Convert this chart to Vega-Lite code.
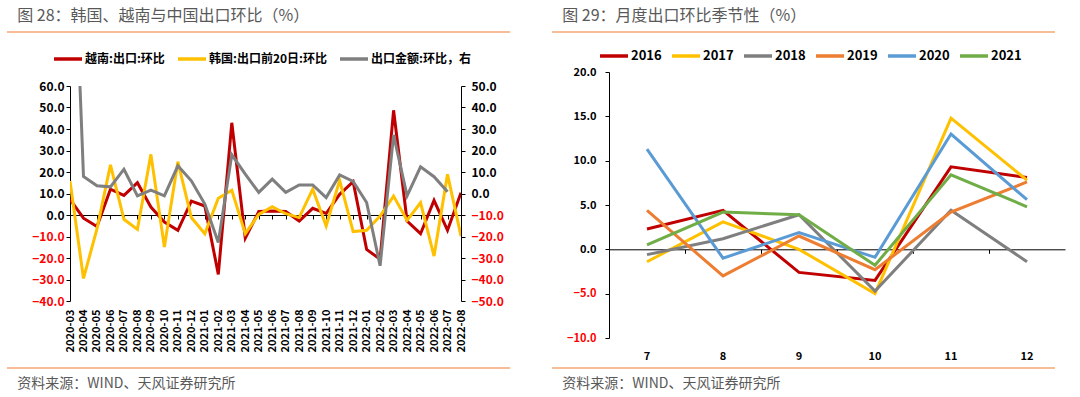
{
 "$schema": "https://vega.github.io/schema/vega-lite/v6.json",
 "background": "white",
 "padding": {"left": 7, "top": 7, "right": 5, "bottom": 0},
 "config": {"font": "Noto Sans CJK SC", "view": {"stroke": null}, "axis": {"grid": false}},
 "spacing": -21,
 "resolve": {"scale": {"color": "independent", "x": "independent", "y": "independent"}, "legend": {"color": "independent"}},
 "hconcat": [
  {
   "spacing": 54,
   "bounds": "flush",
   "resolve": {"scale": {"color": "independent"}, "legend": {"color": "independent"}},
   "vconcat": [
    {
     "width": 503, "height": 1,
     "data": {"values": [{}]},
     "mark": {"type": "point", "opacity": 0},
     "encoding": {"x": {"datum": 0, "type": "quantitative", "scale": {"domain": [0, 1]},
                        "axis": {"orient": "bottom", "title": null, "labels": false, "ticks": false, "domain": true, "domainColor": "#ED7D31", "domainWidth": 1, "translate": -63, "offset": 63}}},
     "title": {"text": "图 28：韩国、越南与中国出口环比（%）", "anchor": "start", "dx": -50, "offset": 5, "fontSize": 16, "fontWeight": "normal", "color": "#595959"}
    },
    {
     "width": 391, "height": 215,
     "data": {"values": [
      {"m": "2020-03", "s1": 7.3, "s2": 15.8, "s3": 170},
      {"m": "2020-04", "s1": -1.5, "s2": -29.5, "s3": 7.9},
      {"m": "2020-05", "s1": -5.4, "s2": -6.5, "s3": 3.6},
      {"m": "2020-06", "s1": 12.0, "s2": 23.3, "s3": 3.1},
      {"m": "2020-07", "s1": 9.1, "s2": -2.0, "s3": 11.3},
      {"m": "2020-08", "s1": 15.0, "s2": -6.7, "s3": -1.1},
      {"m": "2020-09", "s1": 3.7, "s2": 28.2, "s3": 1.6},
      {"m": "2020-10", "s1": -3.3, "s2": -14.9, "s3": -1.1},
      {"m": "2020-11", "s1": -7.1, "s2": 24.8, "s3": 12.9},
      {"m": "2020-12", "s1": 6.5, "s2": -1.2, "s3": 5.9},
      {"m": "2021-01", "s1": 4.2, "s2": -8.7, "s3": -4.9},
      {"m": "2021-02", "s1": -27.6, "s2": 7.8, "s3": -22.8},
      {"m": "2021-03", "s1": 42.9, "s2": 11.5, "s3": 18.0},
      {"m": "2021-04", "s1": -10.8, "s2": -8.7, "s3": 9.0},
      {"m": "2021-05", "s1": 1.6, "s2": 0.3, "s3": 0.5},
      {"m": "2021-06", "s1": 1.9, "s2": 3.9, "s3": 6.7},
      {"m": "2021-07", "s1": 1.6, "s2": 0.6, "s3": 0.5},
      {"m": "2021-08", "s1": -2.8, "s2": -1.2, "s3": 4.0},
      {"m": "2021-09", "s1": 3.1, "s2": 12.0, "s3": 4.0},
      {"m": "2021-10", "s1": 0.7, "s2": -5.1, "s3": -1.9},
      {"m": "2021-11", "s1": 9.6, "s2": 16.1, "s3": 8.6},
      {"m": "2021-12", "s1": 15.5, "s2": -7.7, "s3": 5.6},
      {"m": "2022-01", "s1": -16.0, "s2": -7.1, "s3": -4.2},
      {"m": "2022-02", "s1": -20.6, "s2": -0.5, "s3": -33.6},
      {"m": "2022-03", "s1": 48.7, "s2": 8.8, "s3": 27.3},
      {"m": "2022-04", "s1": -2.8, "s2": -2.5, "s3": -1.1},
      {"m": "2022-05", "s1": -8.7, "s2": 5.7, "s3": 12.4},
      {"m": "2022-06", "s1": 6.8, "s2": -19.1, "s3": 7.8},
      {"m": "2022-07", "s1": -7.1, "s2": 18.9, "s3": 0.8},
      {"m": "2022-08", "s1": 10.4, "s2": -9.8, "s3": null}
     ]},
     "transform": [{"fold": ["s1", "s2", "s3"], "as": ["key", "value"]}],
     "layer": [
      {
       "transform": [{"filter": "datum.key != 's3'"}],
       "mark": {"type": "line", "strokeWidth": 3, "clip": true},
       "encoding": {
        "x": {"field": "m", "type": "ordinal", "scale": {"type": "point", "padding": 0},
              "axis": {"orient": "bottom", "title": null, "labelAngle": -90, "labelFontWeight": "bold", "labelFontSize": 11, "labelColor": "#000000", "domain": false, "ticks": false, "labelPadding": 8}},
        "y": {"field": "value", "type": "quantitative", "scale": {"domain": [-40, 60], "nice": false},
              "axis": {"title": null, "values": [-40, -30, -20, -10, 0, 10, 20, 30, 40, 50, 60], "format": ".1f", "labelFontWeight": "bold", "labelFontSize": 12,
                       "labelColor": {"condition": {"test": "datum.value < 0", "value": "#FF0000"}, "value": "#000000"},
                       "domainColor": "#000000", "tickColor": "#000000", "tickSize": 4, "labelPadding": 2, "minExtent": 63}},
        "color": {"field": "key", "type": "nominal", "scale": {"domain": ["s1", "s2", "s3"], "range": ["#C00000", "#FFC000", "#7F7F7F"]},
                  "legend": {"orient": "none", "legendX": -18, "legendY": -43, "direction": "horizontal", "title": null, "symbolType": "stroke", "symbolSize": 784, "symbolStrokeWidth": 3.5,
                             "labelFontSize": 12, "labelFontWeight": "bold", "labelColor": "#000000", "labelOffset": 1, "columnPadding": 6,
                             "labelExpr": "datum.label == 's1' ? '越南:出口:环比' : datum.label == 's2' ? '韩国:出口前20日:环比' : '出口金额:环比，右'"}}
       }
      },
      {
       "transform": [{"filter": "datum.key == 's3'"}],
       "mark": {"type": "line", "strokeWidth": 3, "clip": true},
       "encoding": {
        "x": {"field": "m", "type": "ordinal", "scale": {"type": "point", "padding": 0},
              "axis": {"orient": "bottom", "title": null, "offset": -86, "labels": false, "domain": true, "domainColor": "#000000", "ticks": true, "tickColor": "#000000", "tickSize": 4}},
        "y": {"field": "value", "type": "quantitative", "scale": {"domain": [-50, 50], "nice": false},
              "axis": {"orient": "right", "title": null, "values": [-50, -40, -30, -20, -10, 0, 10, 20, 30, 40, 50], "format": ".1f", "labelFontWeight": "bold", "labelFontSize": 12,
                       "labelColor": {"condition": {"test": "datum.value < 0", "value": "#FF0000"}, "value": "#000000"},
                       "domainColor": "#000000", "tickColor": "#000000", "tickSize": 4, "labelPadding": 6}},
        "color": {"field": "key", "type": "nominal"}
       }
      }
     ],
     "resolve": {"scale": {"y": "independent"}, "axis": {"x": "independent"}}
    },
    {
     "width": 503, "height": 1,
     "data": {"values": [{}]},
     "mark": {"type": "point", "opacity": 0},
     "encoding": {"x": {"datum": 0, "type": "quantitative", "scale": {"domain": [0, 1]},
                        "axis": {"orient": "bottom", "title": null, "labels": false, "ticks": false, "domain": true, "domainColor": "#ED7D31", "domainWidth": 1, "translate": -63, "offset": 75}}},
     "title": {"text": "资料来源：WIND、天风证券研究所", "orient": "bottom", "anchor": "start", "dx": -50, "offset": -54, "fontSize": 14, "fontWeight": "normal", "color": "#595959"}
    }
   ]
  },
  {
   "spacing": 40,
   "bounds": "flush",
   "resolve": {"scale": {"color": "independent"}, "legend": {"color": "independent"}},
   "vconcat": [
    {
     "width": 503, "height": 1,
     "data": {"values": [{}]},
     "mark": {"type": "point", "opacity": 0},
     "encoding": {"x": {"datum": 0, "type": "quantitative", "scale": {"domain": [0, 1]},
                        "axis": {"orient": "bottom", "title": null, "labels": false, "ticks": false, "domain": true, "domainColor": "#ED7D31", "domainWidth": 1, "translate": -57, "offset": 57}}},
     "title": {"text": "图 29：月度出口环比季节性（%）", "anchor": "start", "dx": -44, "offset": 5, "fontSize": 16, "fontWeight": "normal", "color": "#595959"}
    },
    {
     "width": 456, "height": 266,
     "data": {"values": [
      {"mo": 7, "yr": "2016", "v": 2.3}, {"mo": 8, "yr": "2016", "v": 4.4}, {"mo": 9, "yr": "2016", "v": -2.6}, {"mo": 10, "yr": "2016", "v": -3.5}, {"mo": 11, "yr": "2016", "v": 9.3}, {"mo": 12, "yr": "2016", "v": 8.1},
      {"mo": 7, "yr": "2017", "v": -1.4}, {"mo": 8, "yr": "2017", "v": 3.1}, {"mo": 9, "yr": "2017", "v": 0.0}, {"mo": 10, "yr": "2017", "v": -5.0}, {"mo": 11, "yr": "2017", "v": 14.8}, {"mo": 12, "yr": "2017", "v": 7.8},
      {"mo": 7, "yr": "2018", "v": -0.6}, {"mo": 8, "yr": "2018", "v": 1.2}, {"mo": 9, "yr": "2018", "v": 3.9}, {"mo": 10, "yr": "2018", "v": -4.7}, {"mo": 11, "yr": "2018", "v": 4.4}, {"mo": 12, "yr": "2018", "v": -1.4},
      {"mo": 7, "yr": "2019", "v": 4.4}, {"mo": 8, "yr": "2019", "v": -3.0}, {"mo": 9, "yr": "2019", "v": 1.5}, {"mo": 10, "yr": "2019", "v": -2.3}, {"mo": 11, "yr": "2019", "v": 4.2}, {"mo": 12, "yr": "2019", "v": 7.6},
      {"mo": 7, "yr": "2020", "v": 11.3}, {"mo": 8, "yr": "2020", "v": -1.0}, {"mo": 9, "yr": "2020", "v": 1.9}, {"mo": 10, "yr": "2020", "v": -0.9}, {"mo": 11, "yr": "2020", "v": 13.0}, {"mo": 12, "yr": "2020", "v": 5.6},
      {"mo": 7, "yr": "2021", "v": 0.5}, {"mo": 8, "yr": "2021", "v": 4.2}, {"mo": 9, "yr": "2021", "v": 3.9}, {"mo": 10, "yr": "2021", "v": -1.8}, {"mo": 11, "yr": "2021", "v": 8.4}, {"mo": 12, "yr": "2021", "v": 4.8}
     ]},
     "encoding": {
      "y": {"field": "v", "type": "quantitative", "scale": {"domain": [-10, 20], "nice": false},
            "axis": {"title": null, "values": [-10, -5, 0, 5, 10, 15, 20], "format": ".1f", "labelFontWeight": "bold", "labelFontSize": 11,
                     "labelColor": {"condition": {"test": "datum.value < 0", "value": "#FF0000"}, "value": "#000000"},
                     "domainColor": "#000000", "tickColor": "#000000", "tickSize": 4, "labelPadding": 9, "minExtent": 57}}
     },
     "layer": [
      {
       "mark": {"type": "line", "strokeWidth": 3},
       "encoding": {
        "x": {"field": "mo", "type": "ordinal", "scale": {"type": "band", "paddingInner": 0, "paddingOuter": 0},
              "axis": {"orient": "bottom", "title": null, "labelAngle": 0, "labelFontWeight": "bold", "labelFontSize": 11, "labelColor": "#000000", "domain": false, "ticks": false, "labelPadding": 12}},
        "color": {"field": "yr", "type": "nominal", "scale": {"domain": ["2016", "2017", "2018", "2019", "2020", "2021"], "range": ["#C00000", "#FFC000", "#7F7F7F", "#ED7D31", "#5B9BD5", "#70AD47"]},
                  "legend": {"orient": "none", "legendX": -11, "legendY": -32, "direction": "horizontal", "title": null, "symbolType": "stroke", "symbolSize": 784, "symbolStrokeWidth": 3.5,
                             "labelFontSize": 13, "labelFontWeight": "bold", "labelColor": "#000000", "labelOffset": 1, "columnPadding": 3}}
       }
      },
      {
       "mark": {"type": "line", "opacity": 0},
       "encoding": {
        "x": {"field": "mo", "type": "ordinal", "scale": {"type": "band", "paddingInner": 0, "paddingOuter": 0},
              "axis": {"orient": "bottom", "title": null, "offset": -88.7, "bandPosition": 0, "labels": false, "domain": true, "domainColor": "#000000", "ticks": true, "tickColor": "#000000", "tickSize": 4}},
        "detail": {"field": "yr", "type": "nominal"}
       }
      }
     ],
     "resolve": {"axis": {"x": "independent"}}
    },
    {
     "width": 503, "height": 1,
     "data": {"values": [{}]},
     "mark": {"type": "point", "opacity": 0},
     "encoding": {"x": {"datum": 0, "type": "quantitative", "scale": {"domain": [0, 1]},
                        "axis": {"orient": "bottom", "title": null, "labels": false, "ticks": false, "domain": true, "domainColor": "#ED7D31", "domainWidth": 1, "translate": -57, "offset": 46}}},
     "title": {"text": "资料来源：WIND、天风证券研究所", "orient": "bottom", "anchor": "start", "dx": -44, "offset": -48, "fontSize": 14, "fontWeight": "normal", "color": "#595959"}
    }
   ]
  }
 ]
}
